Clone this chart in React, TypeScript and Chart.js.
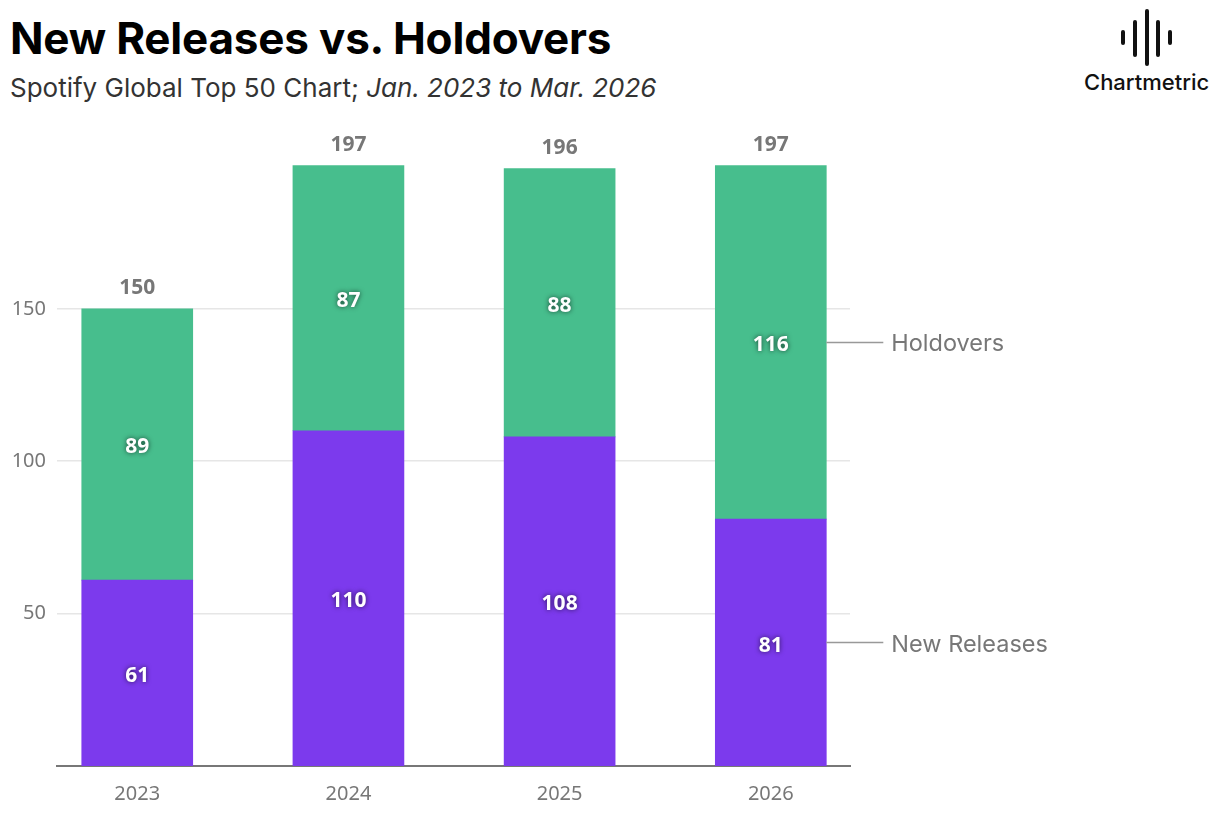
import React, { useEffect, useRef } from 'react';
import { Chart, registerables } from 'chart.js';

Chart.register(...registerables);

const years = ['2023', '2024', '2025', '2026'];
const newReleases = [61, 110, 108, 81];
const holdovers = [89, 87, 88, 116];
const totals = [150, 197, 196, 197];
const yTicks = [50, 100, 150];
const seriesNames = ['New Releases', 'Holdovers'];

const PURPLE = '#7c3aed';
const GREEN = '#47be8d';
const GRAY = '#777777';

const barLabels = {
  id: 'barLabels',
  afterDatasetsDraw(chart: any) {
    const ctx = chart.ctx;
    ctx.save();
    ctx.textAlign = 'center';
    ctx.textBaseline = 'middle';

    // values inside each segment
    chart.data.datasets.forEach((ds: any, di: number) => {
      const meta = chart.getDatasetMeta(di);
      meta.data.forEach((bar: any, i: number) => {
        const yMid = (bar.y + bar.base) / 2;
        ctx.font = 'bold 21px "Noto Sans"';
        ctx.fillStyle = '#ffffff';
        ctx.shadowColor = 'rgba(0,0,0,0.65)';
        ctx.shadowBlur = 5;
        ctx.fillText(String(ds.data[i].y), bar.x, yMid + 3);
      });
    });

    // totals above the stacks
    ctx.shadowColor = 'transparent';
    ctx.shadowBlur = 0;
    const top = chart.getDatasetMeta(chart.data.datasets.length - 1);
    top.data.forEach((bar: any, i: number) => {
      ctx.font = 'bold 21px "Noto Sans"';
      ctx.fillStyle = GRAY;
      ctx.fillText(String(totals[i]), bar.x, bar.y - 21);
    });

    // series names at the right with leader lines
    ctx.textAlign = 'left';
    chart.data.datasets.forEach((ds: any, di: number) => {
      const meta = chart.getDatasetMeta(di);
      const bar: any = meta.data[meta.data.length - 1];
      const yMid = (bar.y + bar.base) / 2;
      const x0 = bar.x + bar.width / 2;
      ctx.strokeStyle = '#999999';
      ctx.lineWidth = 1.5;
      ctx.beginPath();
      ctx.moveTo(x0, yMid);
      ctx.lineTo(x0 + 57, yMid);
      ctx.stroke();
      ctx.font = '23.5px Inter';
      ctx.fillStyle = GRAY;
      ctx.fillText(seriesNames[di], x0 + 65, yMid + 2);
    });
    ctx.restore();
  },
};

const Logo: React.FC = () => {
  const bars = [
    { x: 1123, y1: 32, y2: 43 },
    { x: 1135, y1: 22, y2: 55 },
    { x: 1147, y1: 11, y2: 64 },
    { x: 1158, y1: 22, y2: 55 },
    { x: 1170, y1: 32, y2: 43 },
  ];
  return (
    <>
      <svg width={1220} height={80} style={{ position: 'absolute', left: 0, top: 0 }}>
        {bars.map((b, i) => (
          <line key={i} x1={b.x} x2={b.x} y1={b.y1} y2={b.y2} stroke="#111" strokeWidth={4} strokeLinecap="round" />
        ))}
      </svg>
      <div
        style={{
          position: 'absolute',
          left: 1084,
          top: 69,
          font: '500 22px Inter',
          color: '#111',
          lineHeight: '26px',
        }}
      >
        Chartmetric
      </div>
    </>
  );
};

const App: React.FC = () => {
  const chartRef = useRef<HTMLCanvasElement>(null);
  const chartInstance = useRef<Chart | null>(null);

  useEffect(() => {
    if (!chartRef.current) return;
    const ctx = chartRef.current.getContext('2d');
    if (!ctx) return;
    if (chartInstance.current) chartInstance.current.destroy();

    chartInstance.current = new Chart(ctx, {
      type: 'bar',
      data: {
        datasets: [
          {
            label: seriesNames[0],
            data: newReleases.map((v, i) => ({ x: i, y: v })),
            backgroundColor: PURPLE,
            barThickness: 111,
          },
          {
            label: seriesNames[1],
            data: holdovers.map((v, i) => ({ x: i, y: v })),
            backgroundColor: GREEN,
            barThickness: 111,
          },
        ],
      },
      options: {
        responsive: false,
        animation: false,
        layout: { padding: { left: 0, right: 370, top: 126, bottom: 0 } },
        plugins: {
          legend: { display: false },
          tooltip: { enabled: false },
        },
        scales: {
          x: {
            type: 'linear',
            stacked: true,
            offset: false,
            min: -0.38,
            max: 3.375,
            grid: { display: false, drawTicks: false, offset: false },
            border: { display: true, color: GRAY, width: 2 },
            afterBuildTicks: (scale: any) => {
              scale.ticks = years.map((_, i) => ({ value: i }));
            },
            afterFit: (scale: any) => {
              scale.height = 58;
            },
            ticks: {
              padding: 16,
              color: GRAY,
              font: { family: '"Noto Sans"', size: 20 },
              callback: (v: any) => years[v] ?? '',
            },
          },
          y: {
            stacked: true,
            min: 0,
            max: 210,
            grid: { color: '#e6e6e6', lineWidth: 1.5, drawTicks: false },
            border: { display: false },
            afterBuildTicks: (scale: any) => {
              scale.ticks = yTicks.map((v) => ({ value: v }));
            },
            afterFit: (scale: any) => {
              scale.width = 57;
            },
            ticks: {
              padding: 11,
              color: GRAY,
              font: { family: '"Noto Sans"', size: 20 },
            },
          },
        },
      },
      plugins: [barLabels],
    });

    return () => {
      if (chartInstance.current) {
        chartInstance.current.destroy();
        chartInstance.current = null;
      }
    };
  }, []);

  return (
    <div style={{ position: 'absolute', left: 0, top: 0, width: 1220, height: 824, background: '#fff' }}>
      <div
        style={{
          position: 'absolute',
          left: 10,
          top: 14,
          font: 'bold 44px Inter',
          lineHeight: '48px',
          color: '#000',
          letterSpacing: '-0.2px',
        }}
      >
        New Releases vs. Holdovers
      </div>
      <div
        style={{
          position: 'absolute',
          left: 10,
          top: 72,
          font: '26px Inter',
          lineHeight: '32px',
          color: '#333',
        }}
      >
        Spotify Global Top 50 Chart; <i>Jan. 2023 to Mar. 2026</i>
      </div>
      <Logo />
      <canvas
        ref={chartRef}
        width={1220}
        height={824}
        style={{ position: 'absolute', left: 0, top: 0 }}
      ></canvas>
    </div>
  );
};

export default App;
